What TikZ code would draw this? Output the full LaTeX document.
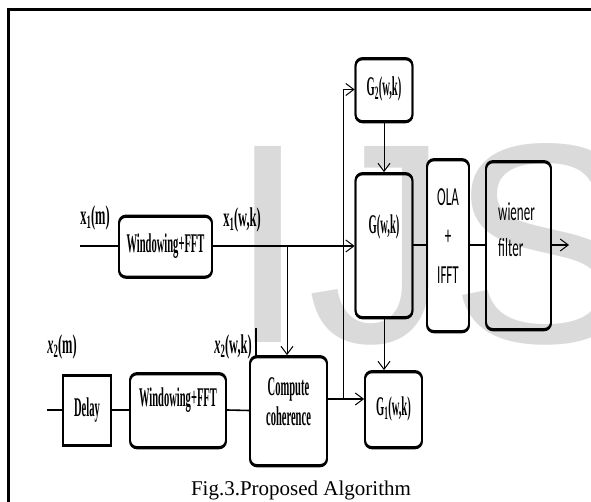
\documentclass[tikz,border=0pt]{standalone}
\usepackage{graphicx}
\usepackage{fontspec}
\setmainfont{Liberation Serif}
\newfontfamily\calibri{Carlito}
\newfontfamily\wmfont{Liberation Sans}
\usetikzlibrary{arrows.meta}
\definecolor{wmark}{RGB}{218,218,218}
\newcommand\slim[2][0.39]{\scalebox{#1}[1]{#2}}
\begin{document}
\begin{tikzpicture}[x=1pt,y=-1pt,
  blk/.style={draw,line width=1.8,rounded corners=7,inner sep=0,
    postaction={draw,line width=1.8,transform canvas={yshift=-1.4pt}}},
  sq/.style={blk,sharp corners},
  lbl/.style={inner sep=0,font=\fontsize{27}{30}\selectfont\bfseries},
  sans/.style={inner sep=0,font=\fontsize{26}{36}\selectfont\calibri},
  wire/.style={line width=1.6},
  fine/.style={line width=1},
  tip/.style={-{Straight Barb[length=8,width=12,line width=1]}}]
  \useasboundingbox (0,0) rectangle (591,502);
  \node[anchor=base west,inner sep=0,text=wmark,font=\fontsize{285}{285}\selectfont\wmfont] (wm) at (228,342) {IJS};
  \draw[line width=3] (8,10) rectangle (610,520);
  % upper path
  \node[blk,lbl,minimum width=93,minimum height=61] (win1) at (165.5,246) {\slim{Windowing+FFT}};
  \node[blk,lbl,minimum width=57,minimum height=63] (G2) at (384,89.5) {\slim{G\textsubscript{2}(w,k)}};
  \node[blk,minimum width=57,minimum height=144] (G) at (384,245) {};
  \node[lbl] (Gt) at (384,227) {\slim{G(w,k)}};
  \node[blk,minimum width=42,minimum height=172] (ola) at (448,245) {};
  \node[sans,align=center,font=\fontsize{26}{39}\selectfont\calibri] (olat) at (448,236) {\slim[0.5]{OLA}\\\slim[0.5]{+}\\\slim[0.5]{IFFT}};
  \node[blk,minimum width=65,minimum height=168] (wien) at (518.5,245) {};
  \node[sans,align=left,anchor=west] (wient) at (498,230) {\slim[0.5]{wiener}\\\slim[0.5]{filter}};
  % lower path
  \node[sq,lbl,minimum width=48,minimum height=70] (delay) at (87,410) {\slim{Delay}};
  \node[blk,minimum width=96,minimum height=74] (win2) at (178,410) {};
  \node[lbl] (win2t) at (178,400) {\slim{Windowing+FFT}};
  \node[blk,minimum width=77,minimum height=109] (comp) at (288.5,410.5) {};
  \node[lbl,align=center] (compt) at (288.5,402) {\slim{Compute}\\\slim{coherence}};
  \node[blk,lbl,minimum width=57,minimum height=76] (G1) at (393.5,409) {\slim{G\textsubscript{1}(w,k)}};
  % signal names
  \node[lbl] (x1m) at (95,218) {\slim[0.46]{x\textsubscript{1}(m)}};
  \node[lbl] (x1wk) at (242,220) {\slim[0.46]{x\textsubscript{1}(w,k)}};
  \node[lbl] (x2m) at (62,347) {\slim[0.46]{\textit{x}\textsubscript{2}(m)}};
  \node[lbl] (x2wk) at (233,347) {\slim[0.46]{\textit{x}\textsubscript{2}(w,k)}};
  \coordinate (cur) at (256,328);
  \draw[line width=1.3] (cur) -- ++(0,29);
  % wiring
  \coordinate (in1) at (80,246);
  \coordinate (in2) at (47,410);
  \coordinate (out) at (569,245);
  \coordinate (br) at (287,246);
  \coordinate (cj) at (343,399);
  \draw[wire] (in1) -- (win1.west);
  \draw[wire,tip] (win1.east) -- (win1.east -| G.west);
  \draw[fine,tip] (br) -- (br |- comp.north);
  \draw[wire] (in2) -- (delay.west) (delay.east) -- (win2.west) (win2.east) -- (comp.west);
  \draw[wire,tip] (cj -| comp.east) -- (cj -| G1.west);
  \draw[fine,tip] (cj) |- (G2.west);
  \draw[fine,tip] (G2.south) -- (G.north);
  \draw[fine,tip] (G.south) -- (G.south |- G1.north);
  \draw[wire] (G.east) -- (ola.west) (ola.east) -- (wien.west);
  \draw[wire,tip] (wien.east) -- (out);
  \node[inner sep=0,anchor=base,font=\fontsize{21}{25}\selectfont] (cap) at (301,495) {Fig.3.Proposed Algorithm};
\end{tikzpicture}
\end{document}
